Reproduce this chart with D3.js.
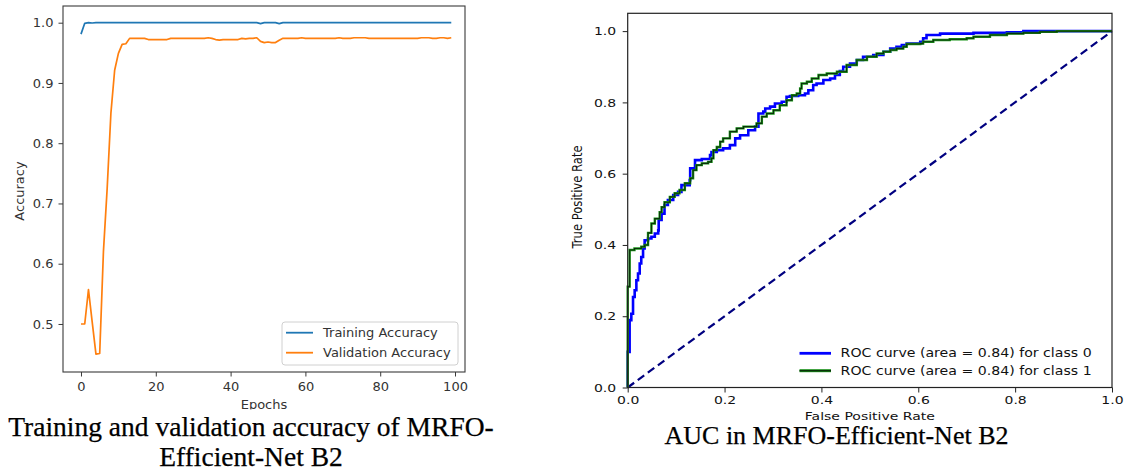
<!DOCTYPE html>
<html><head><meta charset="utf-8">
<script src="https://cdn.jsdelivr.net/npm/d3@7"></script>
<style>body{margin:0;background:#fff}svg{display:block}</style>
</head><body><svg id="c" width="1126" height="472"></svg>
<script>
// ---------- data ----------
const epochs = d3.range(100);
const trainingAccuracy = [
  0.981, 0.999, 1.000, 0.9995, 1.000, 1.000, 1.000, 1.000, 1.000, 1.000,
  1.000, 1.000, 1.000, 1.000, 1.000, 1.000, 1.000, 1.000, 1.000, 1.000,
  1.000, 1.000, 1.000, 1.000, 1.000, 1.000, 1.000, 1.000, 1.000, 1.000,
  1.000, 1.000, 1.000, 1.000, 1.000, 1.000, 1.000, 1.000, 1.000, 1.000,
  1.000, 1.000, 1.000, 1.000, 1.000, 1.000, 1.000, 1.000, 0.9985, 1.000,
  1.000, 1.000, 1.000, 0.9985, 1.000, 1.000, 1.000, 1.000, 1.000, 1.000,
  1.000, 1.000, 1.000, 1.000, 1.000, 1.000, 1.000, 1.000, 1.000, 1.000,
  1.000, 1.000, 1.000, 1.000, 1.000, 1.000, 1.000, 1.000, 1.000, 1.000,
  1.000, 1.000, 1.000, 1.000, 1.000, 1.000, 1.000, 1.000, 1.000, 1.000,
  1.000, 1.000, 1.000, 1.000, 1.000, 1.000, 1.000, 1.000, 1.000, 1.000
];
const validationAccuracy = [
  0.500, 0.500, 0.557, 0.503, 0.450, 0.451, 0.620, 0.725, 0.850, 0.921,
  0.949, 0.964, 0.965, 0.974, 0.974, 0.974, 0.974, 0.974, 0.972, 0.972,
  0.972, 0.972, 0.972, 0.972, 0.974, 0.974, 0.974, 0.974, 0.974, 0.974,
  0.974, 0.974, 0.974, 0.974, 0.975, 0.974, 0.972, 0.971, 0.972, 0.972,
  0.972, 0.972, 0.972, 0.974, 0.973, 0.974, 0.974, 0.975, 0.969, 0.967,
  0.968, 0.967, 0.967, 0.971, 0.974, 0.974, 0.974, 0.974, 0.974, 0.975,
  0.974, 0.974, 0.974, 0.974, 0.974, 0.974, 0.974, 0.974, 0.974, 0.975,
  0.974, 0.974, 0.974, 0.975, 0.975, 0.975, 0.975, 0.974, 0.974, 0.974,
  0.974, 0.974, 0.974, 0.974, 0.974, 0.974, 0.974, 0.974, 0.974, 0.974,
  0.974, 0.975, 0.975, 0.975, 0.974, 0.974, 0.975, 0.975, 0.974, 0.975
];
const accuracyTicks = [0.5, 0.6, 0.7, 0.8, 0.9, 1.0];
const epochTicks = [0, 20, 40, 60, 80, 100];
const accuracyLegend = ["Training Accuracy", "Validation Accuracy"];

const rocClass0 = [
  [0,0],[0,0.10],[0.004,0.114],[0.004,0.189],[0.0075,0.207],[0.011,0.254],[0.0144,0.273],
  [0.0179,0.301],[0.0213,0.320],[0.0248,0.348],[0.028,0.366],[0.0317,0.390],[0.035,0.413],
  [0.042,0.418],[0.049,0.423],[0.056,0.432],[0.063,0.441],[0.064,0.470],[0.070,0.488],
  [0.076,0.512],[0.083,0.526],[0.094,0.540],[0.104,0.549],[0.111,0.568],[0.128,0.582],
  [0.129,0.615],[0.139,0.638],[0.153,0.641],[0.170,0.652],[0.173,0.661],[0.184,0.666],
  [0.197,0.671],[0.211,0.680],[0.222,0.699],[0.232,0.708],[0.249,0.722],[0.263,0.732],
  [0.270,0.755],[0.270,0.769],[0.280,0.774],[0.284,0.783],[0.294,0.788],[0.304,0.797],
  [0.318,0.802],[0.328,0.816],[0.335,0.818],[0.352,0.820],[0.366,0.825],[0.373,0.834],
  [0.383,0.849],[0.390,0.853],[0.404,0.863],[0.418,0.867],[0.428,0.877],[0.438,0.888],
  [0.445,0.900],[0.459,0.909],[0.473,0.919],[0.486,0.928],[0.507,0.933],[0.528,0.942],
  [0.542,0.951],[0.555,0.956],[0.566,0.961],[0.576,0.965],[0.604,0.970],[0.610,0.980],
  [0.617,0.989],[0.645,0.993],[0.714,0.995],[0.783,0.997],[0.817,1.0],[1.0,1.0]
];
const rocClass1 = [
  [0,0],[0,0.283],[0.004,0.339],[0.004,0.386],[0.014,0.390],[0.028,0.395],[0.035,0.400],
  [0.042,0.434],[0.049,0.460],[0.056,0.474],[0.066,0.492],[0.070,0.506],[0.076,0.520],
  [0.087,0.535],[0.097,0.545],[0.107,0.554],[0.118,0.573],[0.129,0.587],[0.135,0.610],
  [0.142,0.624],[0.153,0.629],[0.166,0.633],[0.173,0.643],[0.177,0.666],[0.184,0.675],
  [0.191,0.690],[0.197,0.699],[0.211,0.718],[0.225,0.727],[0.239,0.732],[0.256,0.732],
  [0.266,0.741],[0.277,0.760],[0.287,0.769],[0.301,0.778],[0.314,0.792],[0.328,0.806],
  [0.339,0.820],[0.349,0.825],[0.356,0.839],[0.359,0.853],[0.370,0.858],[0.380,0.867],
  [0.394,0.877],[0.411,0.881],[0.432,0.886],[0.452,0.905],[0.473,0.919],[0.494,0.928],
  [0.514,0.937],[0.528,0.942],[0.542,0.947],[0.555,0.951],[0.569,0.956],[0.576,0.964],
  [0.604,0.965],[0.610,0.970],[0.631,0.975],[0.665,0.977],[0.700,0.980],[0.714,0.984],
  [0.748,0.989],[0.783,0.993],[0.817,0.995],[0.851,0.998],[0.886,1.0],[1.0,1.0]
];
const chanceLine = [[0,0],[1,1]];
const rateTicks = [0, 0.2, 0.4, 0.6, 0.8, 1.0];
const rocLegend = ["ROC curve (area = 0.84) for class 0", "ROC curve (area = 0.84) for class 1"];
const captionLeft = ["Training and validation accuracy of MRFO-", "Efficient-Net B2"];
const captionRight = "AUC in MRFO-Efficient-Net B2";

// ---------- drawing ----------
const svg = d3.select("#c");
const SANS = "DejaVu Sans, sans-serif";
const SERIF = "Liberation Serif, Times New Roman, serif";

// ===== Left chart =====
const L = {l: 63, r: 465, t: 6, b: 372};
const xL = d3.scaleLinear().domain([-4.81, 102.67]).range([L.l, L.r]);
const yL = d3.scaleLinear().domain([0.4203, 1.0277]).range([L.b, L.t]);
const gL = svg.append("g");

const lineAcc = d3.line().x((d, i) => xL(epochs[i])).y(d => yL(d));
gL.append("path").datum(trainingAccuracy).attr("d", lineAcc)
  .attr("fill", "none").attr("stroke", "#1f77b4").attr("stroke-width", 1.7).attr("stroke-linejoin", "round");
gL.append("path").datum(validationAccuracy).attr("d", lineAcc)
  .attr("fill", "none").attr("stroke", "#ff7f0e").attr("stroke-width", 1.7).attr("stroke-linejoin", "round");

gL.append("rect").attr("x", L.l).attr("y", L.t).attr("width", L.r - L.l).attr("height", L.b - L.t)
  .attr("fill", "none").attr("stroke", "#3a3a3a").attr("stroke-width", 1.1);

const axYL = gL.append("g").attr("transform", `translate(${L.l},0)`)
  .call(d3.axisLeft(yL).tickValues(accuracyTicks).tickFormat(d3.format(".1f")).tickSize(4.5).tickPadding(5));
const axXL = gL.append("g").attr("transform", `translate(0,${L.b})`)
  .call(d3.axisBottom(xL).tickValues(epochTicks).tickFormat(d3.format("d")).tickSize(4.5).tickPadding(5));
[axYL, axXL].forEach(a => {
  a.select(".domain").remove();
  a.attr("font-family", SANS).attr("font-size", 13);
  a.selectAll("line").attr("stroke", "#3a3a3a").attr("stroke-width", 1);
  a.selectAll("text").attr("fill", "#333");
});

gL.append("text").attr("transform", `translate(24,191) rotate(-90)`).attr("text-anchor", "middle")
  .attr("font-family", SANS).attr("font-size", 13).attr("fill", "#333").text("Accuracy");
gL.append("text").attr("x", 264).attr("y", 409).attr("text-anchor", "middle")
  .attr("font-family", SANS).attr("font-size", 13).attr("fill", "#333").text("Epochs");

// legend
const lg = gL.append("g");
lg.append("rect").attr("x", 282).attr("y", 322).attr("width", 176).attr("height", 43).attr("rx", 3)
  .attr("fill", "#fff").attr("fill-opacity", 0.8).attr("stroke", "#d0d0d0").attr("stroke-width", 1);
const legColors = ["#1f77b4", "#ff7f0e"];
accuracyLegend.forEach((t, i) => {
  const y = 332.7 + i * 20;
  lg.append("line").attr("x1", 286).attr("x2", 313).attr("y1", y).attr("y2", y)
    .attr("stroke", legColors[i]).attr("stroke-width", 1.8);
  lg.append("text").attr("x", 323).attr("y", y + 4.6).attr("font-family", SANS).attr("font-size", 13)
    .attr("fill", "#333").text(t);
});

// caption (white block cuts the x label, as in the reference)
svg.append("rect").attr("x", 0).attr("y", 409.4).attr("width", 560).attr("height", 63).attr("fill", "#fff");
captionLeft.forEach((t, i) => {
  svg.append("text").attr("x", 251).attr("y", 436 + i * 29.5).attr("text-anchor", "middle")
    .attr("font-family", SERIF).attr("font-size", 27.5).attr("fill", "#000")
    .attr("stroke", "#000").attr("stroke-width", 0.25).text(t);
});

// ===== Right chart =====
const SX = 1.24; // horizontal stretch of the right image's text
const R = {l: 627.7, r: 1112, t: 13.3, b: 387.5};
const xR = d3.scaleLinear().domain([0, 1]).range([R.l, R.r]);
const yR = d3.scaleLinear().domain([0, 1.05]).range([R.b, R.t]);
const gR = svg.append("g");

gR.append("path").datum(chanceLine)
  .attr("d", d3.line().x(d => xR(d[0])).y(d => yR(d[1])))
  .attr("fill", "none").attr("stroke", "#000080").attr("stroke-width", 2.2).attr("stroke-dasharray", "8,4.5");

const rocLine = d3.line().x(d => xR(d[0])).y(d => yR(d[1])).curve(d3.curveStepAfter);
gR.append("path").datum(rocClass0).attr("d", rocLine)
  .attr("fill", "none").attr("stroke", "#0000ff").attr("stroke-width", 2.6);
gR.append("path").datum(rocClass1).attr("d", rocLine)
  .attr("fill", "none").attr("stroke", "#1a961a").attr("stroke-width", 2.4);
gR.append("path").datum(rocClass1).attr("d", rocLine)
  .attr("fill", "none").attr("stroke", "#0a300a").attr("stroke-width", 1.1);

gR.append("rect").attr("x", R.l).attr("y", R.t).attr("width", R.r - R.l).attr("height", R.b - R.t)
  .attr("fill", "none").attr("stroke", "#222").attr("stroke-width", 1.2);

const axYR = gR.append("g").attr("transform", `translate(${R.l},0)`)
  .call(d3.axisLeft(yR).tickValues(rateTicks).tickFormat(d3.format(".1f")).tickSize(5).tickPadding(6));
const axXR = gR.append("g").attr("transform", `translate(0,${R.b})`)
  .call(d3.axisBottom(xR).tickValues(rateTicks).tickFormat(d3.format(".1f")).tickSize(5).tickPadding(3.5));
[axYR, axXR].forEach(a => {
  a.select(".domain").remove();
  a.attr("font-family", SANS).attr("font-size", 11.3);
  a.selectAll("line").attr("stroke", "#222").attr("stroke-width", 1);
  a.selectAll("text").attr("fill", "#111").attr("transform", `scale(${SX},1)`);
});
axYR.selectAll("text").attr("x", -11.5 / SX);

gR.append("text").attr("transform", `translate(869.9,419.5) scale(${SX},1)`).attr("text-anchor", "middle")
  .attr("font-family", SANS).attr("font-size", 11.3).attr("fill", "#111").text("False Positive Rate");
gR.append("text").attr("transform", `translate(581.5,197) scale(${SX},1) rotate(-90)`).attr("text-anchor", "middle")
  .attr("font-family", SANS).attr("font-size", 11.6).attr("fill", "#111").text("True Positive Rate");

// legend
const rl = gR.append("g");
rocLegend.forEach((t, i) => {
  const y = 353.3 + i * 17.4;
  rl.append("line").attr("x1", 799.5).attr("x2", 831).attr("y1", y).attr("y2", y)
    .attr("stroke", i === 0 ? "#0000ff" : "#1a961a").attr("stroke-width", i === 0 ? 2.8 : 3);
  if (i === 1) rl.append("line").attr("x1", 799.5).attr("x2", 831).attr("y1", y).attr("y2", y)
    .attr("stroke", "#0a300a").attr("stroke-width", 1.5);
  rl.append("text").attr("transform", `translate(840.6,${y + 4.1}) scale(${SX},1)`)
    .attr("font-family", SANS).attr("font-size", 11.4).attr("fill", "#111").text(t);
});

svg.append("text").attr("x", 836.5).attr("y", 444).attr("text-anchor", "middle")
  .attr("font-family", SERIF).attr("font-size", 26).attr("fill", "#000")
  .attr("stroke", "#000").attr("stroke-width", 0.25).text(captionRight);
</script>
</body></html>
